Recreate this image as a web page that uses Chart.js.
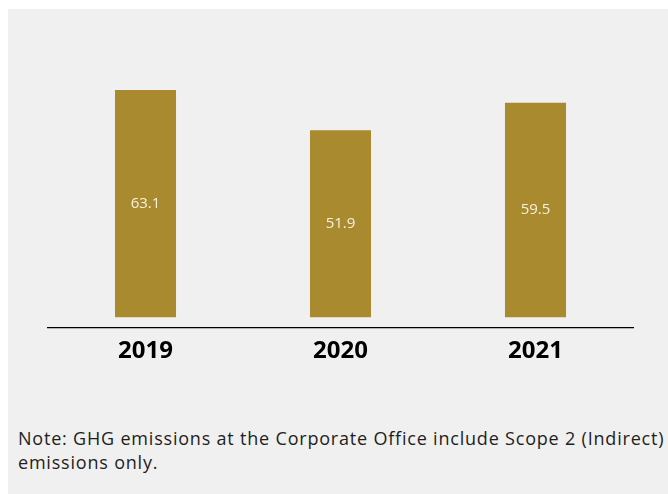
<!DOCTYPE html>
<html>
<head>
<meta charset="utf-8">
<script src="https://cdn.jsdelivr.net/npm/chart.js@4/dist/chart.umd.min.js"></script>
<style>
  html, body { margin: 0; padding: 0; background: #fff; }
  .panel {
    position: absolute; left: 8px; top: 9px;
    width: 660px; height: 485px;
    background: #f0f0f0;
  }
  .chart-box { position: absolute; left: 0; top: 0; width: 660px; height: 359px; }
  .note {
    position: absolute; left: 10px; top: 417px; width: 656px;
    margin: 0;
    font-family: "Open Sans", sans-serif;
    font-size: 18px; line-height: 24px;
    letter-spacing: 0.8px;
    color: #1e1e1e;
  }
</style>
</head>
<body>
<div class="panel">
  <div class="chart-box"><canvas id="chart"></canvas></div>
  <p class="note">Note: GHG emissions at the Corporate Office include Scope 2 (Indirect) emissions only.</p>
</div>
<script>
// GHG emissions at the Corporate Office
const years = ['2019', '2020', '2021'];
const emissions = [63.1, 51.9, 59.5];

const barColor = '#aa8a2f';

// writes each bar's value in the middle of the bar
const valueLabels = {
    id: 'valueLabels',
    afterDatasetsDraw(chart) {
        const ctx = chart.ctx;
        const meta = chart.getDatasetMeta(0);
        ctx.save();
        ctx.font = '15px "Open Sans", sans-serif';
        ctx.fillStyle = '#f7f0dc';
        ctx.textAlign = 'center';
        ctx.textBaseline = 'middle';
        meta.data.forEach((bar, i) => {
            const c = bar.getCenterPoint();
            ctx.fillText(emissions[i].toFixed(1), c.x, c.y);
        });
        ctx.restore();
    }
};

const config = {
    type: 'bar',
    data: {
        labels: years,
        datasets: [{
            data: emissions,
            backgroundColor: barColor,
            borderWidth: 0,
            categoryPercentage: 1,
            barPercentage: 0.313
        }]
    },
    options: {
        responsive: true,
        maintainAspectRatio: false,
        animation: false,
        layout: { padding: { left: 40, right: 35, top: 20, bottom: 0 } },
        plugins: {
            legend: { display: false },
            tooltip: { enabled: false }
        },
        scales: {
            x: {
                grid: { display: false },
                border: { display: true, color: '#000', width: 1.3 },
                ticks: {
                    color: '#000',
                    padding: 2,
                    font: { family: '"Open Sans", sans-serif', size: 24, weight: 'bold' }
                }
            },
            y: {
                display: false,
                min: -2.75,
                max: 80
            }
        }
    },
    plugins: [valueLabels]
};

new Chart(document.querySelector('#chart'), config);
</script>
</body>
</html>
